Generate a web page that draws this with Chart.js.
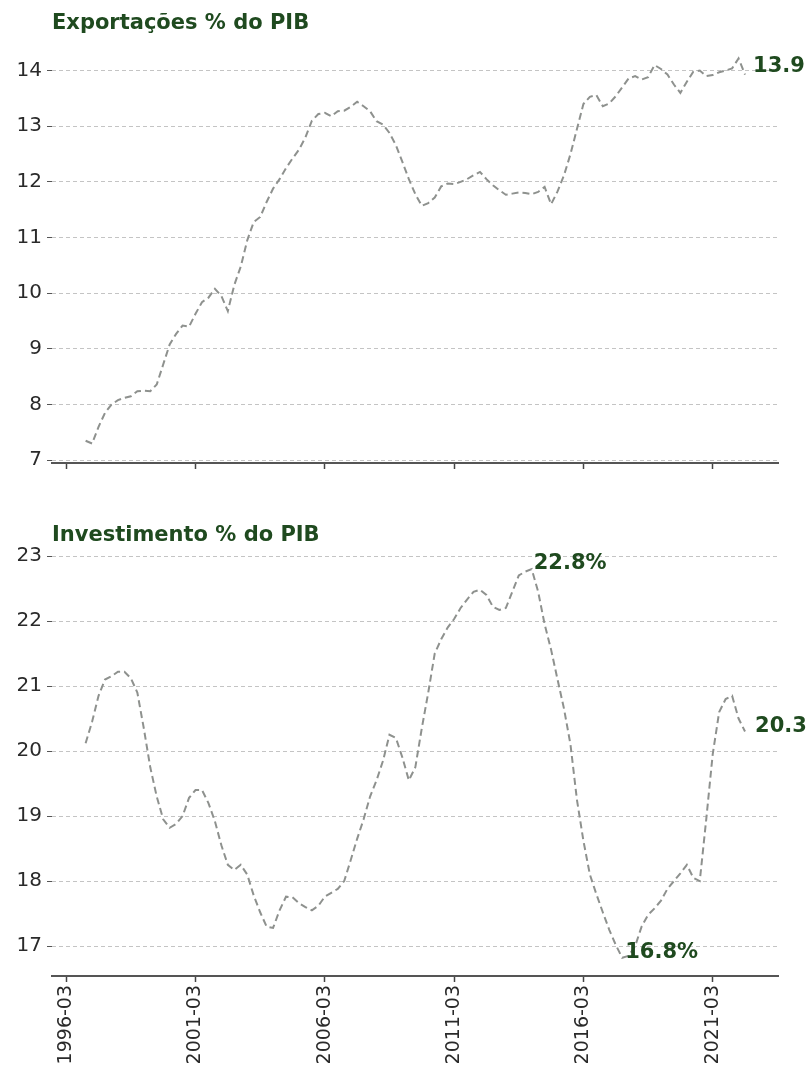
<!DOCTYPE html>
<html>
<head>
<meta charset="utf-8">
<script src="https://cdn.jsdelivr.net/npm/chart.js@4.4.1/dist/chart.umd.min.js"></script>
<style>
  html, body { margin: 0; padding: 0; background: #fff; }
  .box { position: absolute; left: 0; width: 808px; }
</style>
</head>
<body>
<div class="box" style="top:0;height:480px"><canvas id="exp" width="808" height="480"></canvas></div>
<div class="box" style="top:500px;height:574px"><canvas id="inv" width="808" height="574"></canvas></div>
<script>
(() => {
    'use strict';

    // quarter index counted from 1996-03 (0); series start at 1996-12 (3)
    const firstQuarter = 3;
    const exportsPct = [
        7.35, 7.30, 7.60, 7.85, 8.00, 8.08, 8.12, 8.15, 8.24, 8.25,
        8.24, 8.36, 8.72, 9.08, 9.27, 9.42, 9.40, 9.63, 9.84, 9.92,
        10.08, 9.95, 9.68, 10.15, 10.48, 10.95, 11.28, 11.37, 11.64, 11.88,
        12.05, 12.25, 12.42, 12.58, 12.80, 13.10, 13.22, 13.24, 13.18, 13.27,
        13.28, 13.35, 13.44, 13.36, 13.27, 13.09, 13.03, 12.88, 12.66, 12.36,
        12.05, 11.78, 11.57, 11.62, 11.72, 11.92, 11.97, 11.96, 12.00, 12.05,
        12.12, 12.18, 12.05, 11.94, 11.85, 11.77, 11.79, 11.81, 11.80, 11.78,
        11.82, 11.91, 11.60, 11.83, 12.12, 12.50, 12.95, 13.40, 13.53, 13.56,
        13.36, 13.41, 13.54, 13.70, 13.86, 13.90, 13.84, 13.88, 14.10, 14.03,
        13.93, 13.75, 13.60, 13.80, 13.98, 14.00, 13.90, 13.92, 13.97, 14.00,
        14.04, 14.22, 13.93
    ];
    const investPct = [
        20.12, 20.45, 20.85, 21.10, 21.15, 21.22, 21.22, 21.12, 20.90, 20.35,
        19.75, 19.30, 18.95, 18.82, 18.88, 19.00, 19.28, 19.40, 19.40, 19.20,
        18.92, 18.55, 18.25, 18.17, 18.25, 18.10, 17.78, 17.52, 17.30, 17.28,
        17.55, 17.76, 17.75, 17.66, 17.60, 17.55, 17.62, 17.76, 17.82, 17.88,
        18.00, 18.32, 18.65, 18.95, 19.30, 19.55, 19.85, 20.25, 20.20, 19.90,
        19.55, 19.75, 20.35, 20.90, 21.50, 21.72, 21.90, 22.03, 22.20, 22.33,
        22.45, 22.48, 22.40, 22.22, 22.17, 22.20, 22.45, 22.70, 22.76, 22.80,
        22.45, 21.95, 21.56, 21.10, 20.65, 20.10, 19.25, 18.62, 18.10, 17.80,
        17.52, 17.25, 17.02, 16.82, 16.85, 17.00, 17.30, 17.48, 17.58, 17.70,
        17.88, 18.00, 18.12, 18.25, 18.05, 18.00, 18.95, 19.95, 20.60, 20.80,
        20.85, 20.50, 20.30
    ];
    const xTickLabels = ['1996-03', '2001-03', '2006-03', '2011-03', '2016-03', '2021-03'];
    const expTicks = [7, 8, 9, 10, 11, 12, 13, 14];
    const invTicks = [17, 18, 19, 20, 21, 22, 23];

    const green = '#1f4a1f';
    const lineGray = '#8e918e';
    const tickQ = xTickLabels.map(s => (parseInt(s.slice(0, 4), 10) - 1996) * 4);
    const toPoints = arr => arr.map((v, i) => ({ x: firstQuarter + i, y: v }));

    // titles and value labels, placed from the data through the scales
    const notes = {
        id: 'notes',
        afterDatasetsDraw(chart, args, opts) {
            const { ctx, scales } = chart;
            const data = chart.data.datasets[0].data;
            ctx.save();
            ctx.fillStyle = green;
            ctx.textBaseline = 'alphabetic';
            ctx.textAlign = 'left';
            ctx.font = 'bold 21px "DejaVu Sans"';
            ctx.fillText(opts.title, 52, opts.titleY);
            (opts.marks || []).forEach(m => {
                const p = data[m.index];
                const x = scales.x.getPixelForValue(p.x) + m.dx;
                const y = scales.y.getPixelForValue(p.y) + m.dy;
                ctx.fillText(m.text, x, y);
            });
            ctx.restore();
        }
    };

    const argMax = a => a.indexOf(Math.max(...a));
    const argMin = a => a.indexOf(Math.min(...a));

    function makeChart(id, values, ticks, yMin, yMax, opts) {
        return new Chart(document.getElementById(id).getContext('2d'), {
            type: 'line',
            data: {
                datasets: [{
                    data: toPoints(values),
                    borderColor: lineGray,
                    borderWidth: 2,
                    borderDash: [7, 4],
                    pointRadius: 0,
                    fill: false,
                    tension: 0
                }]
            },
            options: {
                responsive: false,
                animation: false,
                layout: { padding: { top: opts.padTop, left: 0, right: 30, bottom: 0 } },
                plugins: {
                    legend: { display: false },
                    tooltip: { enabled: false },
                    notes: opts.notes
                },
                scales: {
                    x: {
                        type: 'linear',
                        min: -2.2,
                        max: 110.1,
                        afterBuildTicks: s => { s.ticks = tickQ.map(v => ({ value: v })); },
                        afterFit: s => { s.height = opts.xHeight; },
                        ticks: {
                            display: opts.showX,
                            autoSkip: false,
                            maxRotation: 90,
                            minRotation: 90,
                            padding: 3,
                            color: '#2a2a2a',
                            font: { family: 'DejaVu Sans', size: 19 },
                            callback: v => xTickLabels[tickQ.indexOf(v)]
                        },
                        grid: {
                            drawOnChartArea: false,
                            drawTicks: true,
                            tickLength: 6,
                            tickColor: '#444',
                            tickWidth: 1.5
                        },
                        border: { display: true, color: '#555', width: 2 }
                    },
                    y: {
                        min: yMin,
                        max: yMax,
                        afterBuildTicks: s => { s.ticks = ticks.map(v => ({ value: v })); },
                        afterFit: s => { s.width = 52; },
                        ticks: {
                            padding: 5,
                            color: '#2a2a2a',
                            font: { family: 'DejaVu Sans', size: 20 }
                        },
                        grid: {
                            color: '#c4c4c4',
                            lineWidth: 1,
                            drawTicks: true,
                            tickLength: 5,
                            tickColor: '#555',
                            tickBorderDash: []
                        },
                        border: { display: false, dash: [4, 3] }
                    }
                }
            },
            plugins: [notes]
        });
    }

    // eslint-disable-next-line no-unused-vars
    const expChart = makeChart('exp', exportsPct, expTicks, 6.95, 14.55, {
        padTop: 40,
        xHeight: 16,
        showX: false,
        notes: {
            title: 'Exportações % do PIB',
            titleY: 29,
            marks: [
                { index: exportsPct.length - 1, text: exportsPct[exportsPct.length - 1].toFixed(1), dx: 8, dy: -3 }
            ]
        }
    });

    // eslint-disable-next-line no-unused-vars
    const invChart = makeChart('inv', investPct, invTicks, 16.54, 23.1, {
        padTop: 49.5,
        xHeight: 98,
        showX: true,
        notes: {
            title: 'Investimento % do PIB',
            titleY: 41,
            marks: [
                { index: argMax(investPct), text: investPct[argMax(investPct)].toFixed(1) + '%', dx: 2, dy: 0 },
                { index: argMin(investPct), text: investPct[argMin(investPct)].toFixed(1) + '%', dx: 3, dy: 0 },
                { index: investPct.length - 1, text: investPct[investPct.length - 1].toFixed(1), dx: 10, dy: 0 }
            ]
        }
    });
})();
</script>
</body>
</html>
